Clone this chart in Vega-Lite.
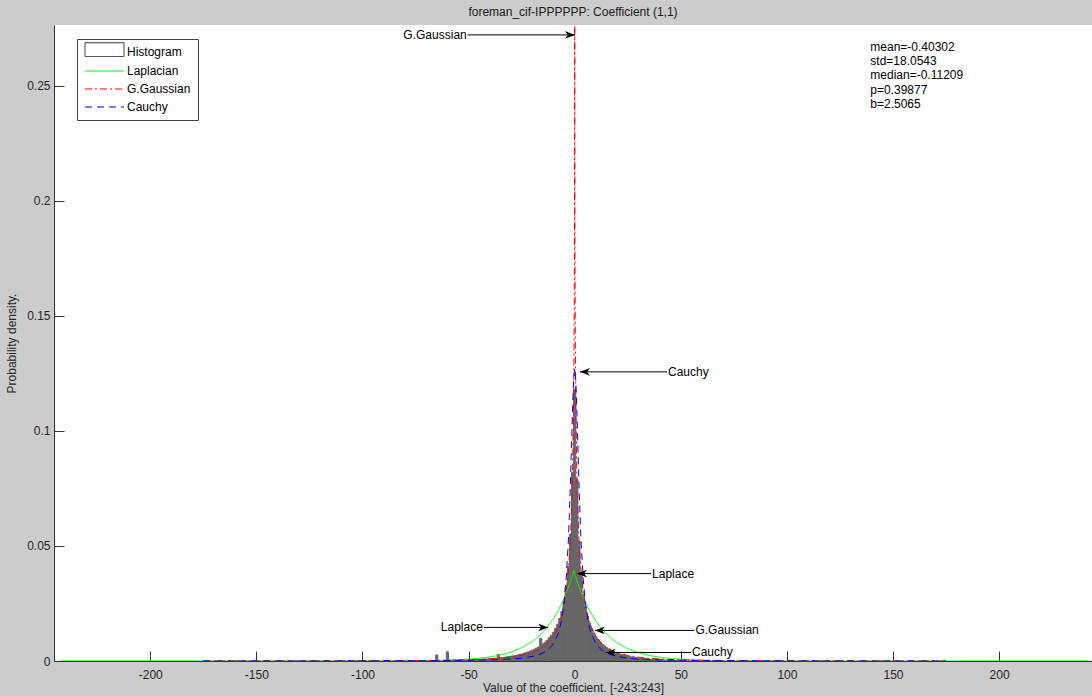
{
  "$schema": "https://vega.github.io/schema/vega-lite/v6.json",
  "width": 1038,
  "height": 636,
  "autosize": {"type": "none"},
  "padding": {"left": 54, "top": 25, "right": 0, "bottom": 35},
  "background": "#cccccc",
  "title": {"text": "foreman_cif-IPPPPPP: Coefficient (1,1)", "fontSize": 12, "font": "Liberation Sans", "fontWeight": "normal", "color": "#1a1a1a", "anchor": "middle", "offset": 6},
  "config": {
    "view": {"fill": "white", "stroke": null},
    "font": "Liberation Sans",
    "axis": {"domainColor": "#333333", "tickColor": "#333333", "labelColor": "#262626", "titleColor": "#262626", "labelFont": "Liberation Sans", "titleFont": "Liberation Sans", "labelFontSize": 12, "titleFontSize": 12, "titleFontWeight": "normal", "grid": false, "tickSize": -10, "labelFlush": false, "labelOverlap": false}
  },
  "datasets": {
    "hist": [
      {"from": -65.5, "to": -64.5, "density": 0.0026},
      {"from": -60.5, "to": -59.5, "density": 0.004},
      {"from": -59.5, "to": -58.5, "density": 0.0003},
      {"from": -58.5, "to": -57.5, "density": 0.0003},
      {"from": -57.5, "to": -56.5, "density": 0.0002},
      {"from": -56.5, "to": -55.5, "density": 0.0003},
      {"from": -55.5, "to": -54.5, "density": 0.0003},
      {"from": -54.5, "to": -53.5, "density": 0.0004},
      {"from": -53.5, "to": -52.5, "density": 0.0003},
      {"from": -52.5, "to": -51.5, "density": 0.0004},
      {"from": -51.5, "to": -50.5, "density": 0.0004},
      {"from": -50.5, "to": -49.5, "density": 0.0005},
      {"from": -49.5, "to": -48.5, "density": 0.0005},
      {"from": -48.5, "to": -47.5, "density": 0.0006},
      {"from": -47.5, "to": -46.5, "density": 0.0005},
      {"from": -46.5, "to": -45.5, "density": 0.0006},
      {"from": -45.5, "to": -44.5, "density": 0.0007},
      {"from": -44.5, "to": -43.5, "density": 0.0007},
      {"from": -43.5, "to": -42.5, "density": 0.0008},
      {"from": -42.5, "to": -41.5, "density": 0.0008},
      {"from": -41.5, "to": -40.5, "density": 0.0009},
      {"from": -40.5, "to": -39.5, "density": 0.001},
      {"from": -39.5, "to": -38.5, "density": 0.0011},
      {"from": -38.5, "to": -37.5, "density": 0.0012},
      {"from": -37.5, "to": -36.5, "density": 0.0012},
      {"from": -36.5, "to": -35.5, "density": 0.0028},
      {"from": -35.5, "to": -34.5, "density": 0.0014},
      {"from": -34.5, "to": -33.5, "density": 0.0015},
      {"from": -33.5, "to": -32.5, "density": 0.0016},
      {"from": -32.5, "to": -31.5, "density": 0.0018},
      {"from": -31.5, "to": -30.5, "density": 0.0019},
      {"from": -30.5, "to": -29.5, "density": 0.0021},
      {"from": -29.5, "to": -28.5, "density": 0.0022},
      {"from": -28.5, "to": -27.5, "density": 0.0024},
      {"from": -27.5, "to": -26.5, "density": 0.0026},
      {"from": -26.5, "to": -25.5, "density": 0.0028},
      {"from": -25.5, "to": -24.5, "density": 0.003},
      {"from": -24.5, "to": -23.5, "density": 0.0033},
      {"from": -23.5, "to": -22.5, "density": 0.0036},
      {"from": -22.5, "to": -21.5, "density": 0.0039},
      {"from": -21.5, "to": -20.5, "density": 0.0043},
      {"from": -20.5, "to": -19.5, "density": 0.0047},
      {"from": -19.5, "to": -18.5, "density": 0.0051},
      {"from": -18.5, "to": -17.5, "density": 0.0056},
      {"from": -17.5, "to": -16.5, "density": 0.0061},
      {"from": -16.5, "to": -15.5, "density": 0.0098},
      {"from": -15.5, "to": -14.5, "density": 0.0073},
      {"from": -14.5, "to": -13.5, "density": 0.0081},
      {"from": -13.5, "to": -12.5, "density": 0.009},
      {"from": -12.5, "to": -11.5, "density": 0.0101},
      {"from": -11.5, "to": -10.5, "density": 0.0112},
      {"from": -10.5, "to": -9.5, "density": 0.0125},
      {"from": -9.5, "to": -8.5, "density": 0.0142},
      {"from": -8.5, "to": -7.5, "density": 0.016},
      {"from": -7.5, "to": -6.5, "density": 0.0185},
      {"from": -6.5, "to": -5.5, "density": 0.0215},
      {"from": -5.5, "to": -4.5, "density": 0.026},
      {"from": -4.5, "to": -3.5, "density": 0.032},
      {"from": -3.5, "to": -2.5, "density": 0.041},
      {"from": -2.5, "to": -1.5, "density": 0.055},
      {"from": -1.5, "to": -0.5, "density": 0.082},
      {"from": -0.5, "to": 0.5, "density": 0.118},
      {"from": 0.5, "to": 1.5, "density": 0.079},
      {"from": 1.5, "to": 2.5, "density": 0.052},
      {"from": 2.5, "to": 3.5, "density": 0.038},
      {"from": 3.5, "to": 4.5, "density": 0.029},
      {"from": 4.5, "to": 5.5, "density": 0.0235},
      {"from": 5.5, "to": 6.5, "density": 0.0195},
      {"from": 6.5, "to": 7.5, "density": 0.0165},
      {"from": 7.5, "to": 8.5, "density": 0.014},
      {"from": 8.5, "to": 9.5, "density": 0.0122},
      {"from": 9.5, "to": 10.5, "density": 0.0105},
      {"from": 10.5, "to": 11.5, "density": 0.0093},
      {"from": 11.5, "to": 12.5, "density": 0.0082},
      {"from": 12.5, "to": 13.5, "density": 0.0073},
      {"from": 13.5, "to": 14.5, "density": 0.0065},
      {"from": 14.5, "to": 15.5, "density": 0.0058},
      {"from": 15.5, "to": 16.5, "density": 0.0052},
      {"from": 16.5, "to": 17.5, "density": 0.0047},
      {"from": 17.5, "to": 18.5, "density": 0.0042},
      {"from": 18.5, "to": 19.5, "density": 0.0038},
      {"from": 19.5, "to": 20.5, "density": 0.0034},
      {"from": 20.5, "to": 21.5, "density": 0.0031},
      {"from": 21.5, "to": 22.5, "density": 0.0028},
      {"from": 22.5, "to": 23.5, "density": 0.0025},
      {"from": 23.5, "to": 24.5, "density": 0.0023},
      {"from": 24.5, "to": 25.5, "density": 0.0021},
      {"from": 25.5, "to": 26.5, "density": 0.0019},
      {"from": 26.5, "to": 27.5, "density": 0.0017},
      {"from": 27.5, "to": 28.5, "density": 0.0016},
      {"from": 28.5, "to": 29.5, "density": 0.0014},
      {"from": 29.5, "to": 30.5, "density": 0.0013},
      {"from": 30.5, "to": 31.5, "density": 0.0012},
      {"from": 31.5, "to": 32.5, "density": 0.0011},
      {"from": 32.5, "to": 33.5, "density": 0.001},
      {"from": 33.5, "to": 34.5, "density": 0.0009},
      {"from": 34.5, "to": 35.5, "density": 0.0008},
      {"from": 35.5, "to": 36.5, "density": 0.0007},
      {"from": 36.5, "to": 37.5, "density": 0.0007},
      {"from": 37.5, "to": 38.5, "density": 0.0006},
      {"from": 38.5, "to": 39.5, "density": 0.0006},
      {"from": 39.5, "to": 40.5, "density": 0.0005},
      {"from": 40.5, "to": 41.5, "density": 0.0005},
      {"from": 41.5, "to": 42.5, "density": 0.0004},
      {"from": 42.5, "to": 43.5, "density": 0.0004},
      {"from": 43.5, "to": 44.5, "density": 0.0003},
      {"from": 44.5, "to": 45.5, "density": 0.0003},
      {"from": 45.5, "to": 46.5, "density": 0.0003},
      {"from": 46.5, "to": 47.5, "density": 0.0002},
      {"from": 47.5, "to": 48.5, "density": 0.0002},
      {"from": 48.5, "to": 49.5, "density": 0.0002},
      {"from": 49.5, "to": 50.5, "density": 0.0002},
      {"from": 51.5, "to": 52.5, "density": 0.0001},
      {"from": 53.5, "to": 54.5, "density": 0.0001},
      {"from": 55.5, "to": 56.5, "density": 0.0001}
    ],
    "curves": [
      {"series": "Laplacian", "x": -243, "y": 0},
      {"series": "Laplacian", "x": -150, "y": 0.0000003},
      {"series": "Laplacian", "x": -120, "y": 0.0000033},
      {"series": "Laplacian", "x": -100, "y": 0.000016},
      {"series": "Laplacian", "x": -90, "y": 0.0000352},
      {"series": "Laplacian", "x": -80, "y": 0.0000769},
      {"series": "Laplacian", "x": -70, "y": 0.000168},
      {"series": "Laplacian", "x": -60, "y": 0.000368},
      {"series": "Laplacian", "x": -50, "y": 0.000805},
      {"series": "Laplacian", "x": -45, "y": 0.00119},
      {"series": "Laplacian", "x": -40, "y": 0.00176},
      {"series": "Laplacian", "x": -35, "y": 0.00261},
      {"series": "Laplacian", "x": -30, "y": 0.00386},
      {"series": "Laplacian", "x": -25, "y": 0.00571},
      {"series": "Laplacian", "x": -20, "y": 0.00844},
      {"series": "Laplacian", "x": -17.5, "y": 0.01027},
      {"series": "Laplacian", "x": -15, "y": 0.01249},
      {"series": "Laplacian", "x": -12.5, "y": 0.01519},
      {"series": "Laplacian", "x": -10, "y": 0.01848},
      {"series": "Laplacian", "x": -8, "y": 0.02162},
      {"series": "Laplacian", "x": -6, "y": 0.02528},
      {"series": "Laplacian", "x": -4, "y": 0.02957},
      {"series": "Laplacian", "x": -2, "y": 0.03458},
      {"series": "Laplacian", "x": -1, "y": 0.0374},
      {"series": "Laplacian", "x": -0.4, "y": 0.0392},
      {"series": "Laplacian", "x": 1, "y": 0.0351},
      {"series": "Laplacian", "x": 2, "y": 0.03248},
      {"series": "Laplacian", "x": 4, "y": 0.02777},
      {"series": "Laplacian", "x": 6, "y": 0.02375},
      {"series": "Laplacian", "x": 8, "y": 0.0203},
      {"series": "Laplacian", "x": 10, "y": 0.01736},
      {"series": "Laplacian", "x": 12.5, "y": 0.01427},
      {"series": "Laplacian", "x": 15, "y": 0.01173},
      {"series": "Laplacian", "x": 17.5, "y": 0.00965},
      {"series": "Laplacian", "x": 20, "y": 0.00793},
      {"series": "Laplacian", "x": 25, "y": 0.00536},
      {"series": "Laplacian", "x": 30, "y": 0.00362},
      {"series": "Laplacian", "x": 35, "y": 0.00245},
      {"series": "Laplacian", "x": 40, "y": 0.00166},
      {"series": "Laplacian", "x": 45, "y": 0.00112},
      {"series": "Laplacian", "x": 50, "y": 0.000756},
      {"series": "Laplacian", "x": 60, "y": 0.000346},
      {"series": "Laplacian", "x": 70, "y": 0.000158},
      {"series": "Laplacian", "x": 80, "y": 0.0000723},
      {"series": "Laplacian", "x": 90, "y": 0.000033},
      {"series": "Laplacian", "x": 100, "y": 0.000015},
      {"series": "Laplacian", "x": 120, "y": 0.000003},
      {"series": "Laplacian", "x": 150, "y": 0.0000003},
      {"series": "Laplacian", "x": 243, "y": 0},
      {"series": "G.Gaussian", "x": -175, "y": 0.0000078},
      {"series": "G.Gaussian", "x": -150, "y": 0.000015},
      {"series": "G.Gaussian", "x": -125, "y": 0.0000303},
      {"series": "G.Gaussian", "x": -100, "y": 0.0000666},
      {"series": "G.Gaussian", "x": -90, "y": 0.0000943},
      {"series": "G.Gaussian", "x": -80, "y": 0.000137},
      {"series": "G.Gaussian", "x": -70, "y": 0.000205},
      {"series": "G.Gaussian", "x": -60, "y": 0.000317},
      {"series": "G.Gaussian", "x": -50, "y": 0.000514},
      {"series": "G.Gaussian", "x": -45, "y": 0.000671},
      {"series": "G.Gaussian", "x": -40, "y": 0.00089},
      {"series": "G.Gaussian", "x": -35, "y": 0.001205},
      {"series": "G.Gaussian", "x": -30, "y": 0.00168},
      {"series": "G.Gaussian", "x": -25, "y": 0.00243},
      {"series": "G.Gaussian", "x": -20, "y": 0.00367},
      {"series": "G.Gaussian", "x": -17.5, "y": 0.00463},
      {"series": "G.Gaussian", "x": -15, "y": 0.00595},
      {"series": "G.Gaussian", "x": -12.5, "y": 0.00786},
      {"series": "G.Gaussian", "x": -10, "y": 0.01076},
      {"series": "G.Gaussian", "x": -8, "y": 0.01436},
      {"series": "G.Gaussian", "x": -7, "y": 0.01686},
      {"series": "G.Gaussian", "x": -6, "y": 0.02008},
      {"series": "G.Gaussian", "x": -5, "y": 0.02436},
      {"series": "G.Gaussian", "x": -4, "y": 0.0303},
      {"series": "G.Gaussian", "x": -3, "y": 0.0391},
      {"series": "G.Gaussian", "x": -2.5, "y": 0.0452},
      {"series": "G.Gaussian", "x": -2, "y": 0.0534},
      {"series": "G.Gaussian", "x": -1.5, "y": 0.0648},
      {"series": "G.Gaussian", "x": -1, "y": 0.082},
      {"series": "G.Gaussian", "x": -0.5, "y": 0.1137},
      {"series": "G.Gaussian", "x": -0.25, "y": 0.1455},
      {"series": "G.Gaussian", "x": -0.1, "y": 0.1846},
      {"series": "G.Gaussian", "x": 0, "y": 0.3163},
      {"series": "G.Gaussian", "x": 0.1, "y": 0.1846},
      {"series": "G.Gaussian", "x": 0.25, "y": 0.1455},
      {"series": "G.Gaussian", "x": 0.5, "y": 0.1137},
      {"series": "G.Gaussian", "x": 1, "y": 0.082},
      {"series": "G.Gaussian", "x": 1.5, "y": 0.0648},
      {"series": "G.Gaussian", "x": 2, "y": 0.0534},
      {"series": "G.Gaussian", "x": 2.5, "y": 0.0452},
      {"series": "G.Gaussian", "x": 3, "y": 0.0391},
      {"series": "G.Gaussian", "x": 4, "y": 0.0303},
      {"series": "G.Gaussian", "x": 5, "y": 0.02436},
      {"series": "G.Gaussian", "x": 6, "y": 0.02008},
      {"series": "G.Gaussian", "x": 7, "y": 0.01686},
      {"series": "G.Gaussian", "x": 8, "y": 0.01436},
      {"series": "G.Gaussian", "x": 10, "y": 0.01076},
      {"series": "G.Gaussian", "x": 12.5, "y": 0.00786},
      {"series": "G.Gaussian", "x": 15, "y": 0.00595},
      {"series": "G.Gaussian", "x": 17.5, "y": 0.00463},
      {"series": "G.Gaussian", "x": 20, "y": 0.00367},
      {"series": "G.Gaussian", "x": 25, "y": 0.00243},
      {"series": "G.Gaussian", "x": 30, "y": 0.00168},
      {"series": "G.Gaussian", "x": 35, "y": 0.001205},
      {"series": "G.Gaussian", "x": 40, "y": 0.00089},
      {"series": "G.Gaussian", "x": 45, "y": 0.000671},
      {"series": "G.Gaussian", "x": 50, "y": 0.000514},
      {"series": "G.Gaussian", "x": 60, "y": 0.000317},
      {"series": "G.Gaussian", "x": 70, "y": 0.000205},
      {"series": "G.Gaussian", "x": 80, "y": 0.000137},
      {"series": "G.Gaussian", "x": 90, "y": 0.0000943},
      {"series": "G.Gaussian", "x": 100, "y": 0.0000666},
      {"series": "G.Gaussian", "x": 125, "y": 0.0000303},
      {"series": "G.Gaussian", "x": 150, "y": 0.000015},
      {"series": "G.Gaussian", "x": 175, "y": 0.0000078},
      {"series": "Cauchy", "x": -175, "y": 0.0000261},
      {"series": "Cauchy", "x": -150, "y": 0.0000355},
      {"series": "Cauchy", "x": -125, "y": 0.0000511},
      {"series": "Cauchy", "x": -100, "y": 0.0000797},
      {"series": "Cauchy", "x": -90, "y": 0.0000985},
      {"series": "Cauchy", "x": -80, "y": 0.000125},
      {"series": "Cauchy", "x": -70, "y": 0.000163},
      {"series": "Cauchy", "x": -60, "y": 0.000221},
      {"series": "Cauchy", "x": -50, "y": 0.000318},
      {"series": "Cauchy", "x": -45, "y": 0.000393},
      {"series": "Cauchy", "x": -40, "y": 0.000497},
      {"series": "Cauchy", "x": -35, "y": 0.000648},
      {"series": "Cauchy", "x": -30, "y": 0.00088},
      {"series": "Cauchy", "x": -25, "y": 0.00126},
      {"series": "Cauchy", "x": -20, "y": 0.00196},
      {"series": "Cauchy", "x": -17.5, "y": 0.00255},
      {"series": "Cauchy", "x": -15, "y": 0.00345},
      {"series": "Cauchy", "x": -12.5, "y": 0.00491},
      {"series": "Cauchy", "x": -10, "y": 0.00751},
      {"series": "Cauchy", "x": -8, "y": 0.01135},
      {"series": "Cauchy", "x": -7, "y": 0.01443},
      {"series": "Cauchy", "x": -6, "y": 0.01887},
      {"series": "Cauchy", "x": -5, "y": 0.0255},
      {"series": "Cauchy", "x": -4, "y": 0.0358},
      {"series": "Cauchy", "x": -3, "y": 0.0522},
      {"series": "Cauchy", "x": -2.5, "y": 0.0637},
      {"series": "Cauchy", "x": -2, "y": 0.0776},
      {"series": "Cauchy", "x": -1.5, "y": 0.0935},
      {"series": "Cauchy", "x": -1, "y": 0.1096},
      {"series": "Cauchy", "x": -0.5, "y": 0.1221},
      {"series": "Cauchy", "x": 0, "y": 0.127},
      {"series": "Cauchy", "x": 0.5, "y": 0.1221},
      {"series": "Cauchy", "x": 1, "y": 0.1096},
      {"series": "Cauchy", "x": 1.5, "y": 0.0935},
      {"series": "Cauchy", "x": 2, "y": 0.0776},
      {"series": "Cauchy", "x": 2.5, "y": 0.0637},
      {"series": "Cauchy", "x": 3, "y": 0.0522},
      {"series": "Cauchy", "x": 4, "y": 0.0358},
      {"series": "Cauchy", "x": 5, "y": 0.0255},
      {"series": "Cauchy", "x": 6, "y": 0.01887},
      {"series": "Cauchy", "x": 7, "y": 0.01443},
      {"series": "Cauchy", "x": 8, "y": 0.01135},
      {"series": "Cauchy", "x": 10, "y": 0.00751},
      {"series": "Cauchy", "x": 12.5, "y": 0.00491},
      {"series": "Cauchy", "x": 15, "y": 0.00345},
      {"series": "Cauchy", "x": 17.5, "y": 0.00255},
      {"series": "Cauchy", "x": 20, "y": 0.00196},
      {"series": "Cauchy", "x": 25, "y": 0.00126},
      {"series": "Cauchy", "x": 30, "y": 0.00088},
      {"series": "Cauchy", "x": 35, "y": 0.000648},
      {"series": "Cauchy", "x": 40, "y": 0.000497},
      {"series": "Cauchy", "x": 45, "y": 0.000393},
      {"series": "Cauchy", "x": 50, "y": 0.000318},
      {"series": "Cauchy", "x": 60, "y": 0.000221},
      {"series": "Cauchy", "x": 70, "y": 0.000163},
      {"series": "Cauchy", "x": 80, "y": 0.000125},
      {"series": "Cauchy", "x": 90, "y": 0.0000985},
      {"series": "Cauchy", "x": 100, "y": 0.0000797},
      {"series": "Cauchy", "x": 125, "y": 0.0000511},
      {"series": "Cauchy", "x": 150, "y": 0.0000355},
      {"series": "Cauchy", "x": 175, "y": 0.0000261}
    ],
    "notes": [
      {"label": "G.Gaussian", "tx": -50.4, "ty": 0.2722, "hx": 0.1, "hy": 0.2722},
      {"label": "Cauchy", "tx": 43.5, "ty": 0.1257, "hx": 2.5, "hy": 0.1257},
      {"label": "Laplace", "tx": 36.0, "ty": 0.038, "hx": 1.1, "hy": 0.038},
      {"label": "Laplace", "tx": -42.8, "ty": 0.0146, "hx": -12.5, "hy": 0.0146},
      {"label": "G.Gaussian", "tx": 56.4, "ty": 0.0133, "hx": 9.5, "hy": 0.0133},
      {"label": "Cauchy", "tx": 54.8, "ty": 0.0037, "hx": 14.6, "hy": 0.0037}
    ],
    "stats": [
      {"text": "mean=-0.40302", "x": 139.3, "y": 0.26687},
      {"text": "std=18.0543", "x": 139.3, "y": 0.26078},
      {"text": "median=-0.11209", "x": 139.3, "y": 0.25457},
      {"text": "p=0.39877", "x": 139.3, "y": 0.24835},
      {"text": "b=2.5065", "x": 139.3, "y": 0.24226}
    ]
  },
  "layer": [
    {
      "data": {"name": "hist"},
      "mark": {"type": "bar", "orient": "vertical", "color": "#666666", "stroke": "#666666", "strokeWidth": 1, "clip": true},
      "encoding": {
        "x": {"field": "from", "type": "quantitative", "scale": {"domain": [-243, 241.4], "nice": false, "zero": false}, "axis": {"values": [-200, -150, -100, -50, 0, 50, 100, 150, 200], "labelExpr": "'' + datum.value", "title": "Value of the coefficient. [-243:243]", "labelPadding": 18, "titlePadding": 2}},
        "x2": {"field": "to"},
        "y": {"field": "density", "type": "quantitative", "scale": {"domain": [0, 0.2765], "nice": false}, "axis": {"values": [0, 0.05, 0.1, 0.15, 0.2, 0.25], "labelExpr": "'' + datum.value", "title": "Probability density.", "labelPadding": 14, "titlePadding": 8}},
        "y2": {"datum": 0}
      }
    },
    {
      "data": {"name": "curves"},
      "mark": {"type": "line", "strokeWidth": 1, "clip": true},
      "encoding": {
        "x": {"field": "x", "type": "quantitative"},
        "y": {"field": "y", "type": "quantitative"},
        "color": {"field": "series", "type": "nominal", "sort": null,
          "scale": {"domain": ["Histogram", "Laplacian", "G.Gaussian", "Cauchy"], "range": ["#333333", "#00ff00", "#ff0000", "#0000ff"]},
          "legend": {"title": null, "orient": "none", "legendX": 23, "legendY": 14, "fillColor": "white", "strokeColor": "#404040", "padding": 7, "symbolType": "M-1,0H6.8", "symbolSize": 100, "symbolStrokeWidth": 1, "labelFontSize": 12, "labelFont": "Liberation Sans", "labelColor": "#000000", "labelOffset": 31, "rowPadding": 6,
            "encoding": {"symbols": {"shape": {"value": {"expr": "datum.value === 'Histogram' ? 'M-1,-1.85H6.8V0.9H-1Z' : 'M-1,0H6.8'"}}, "fill": {"value": "transparent"}, "fillOpacity": {"value": 0}, "opacity": {"value": 1}, "strokeWidth": {"value": 1}}}}},
        "strokeDash": {"field": "series", "type": "nominal", "sort": null,
          "scale": {"domain": ["Histogram", "Laplacian", "G.Gaussian", "Cauchy"], "range": [[1, 0], [1, 0], [7, 3, 2, 3], [7, 5]]},
          "legend": {"title": null, "orient": "none", "legendX": 23, "legendY": 14, "fillColor": "white", "strokeColor": "#404040", "padding": 7, "symbolType": "M-1,0H6.8", "symbolSize": 100, "symbolStrokeWidth": 1, "labelFontSize": 12, "labelFont": "Liberation Sans", "labelColor": "#000000", "labelOffset": 31, "rowPadding": 6,
            "encoding": {"symbols": {"shape": {"value": {"expr": "datum.value === 'Histogram' ? 'M-1,-1.85H6.8V0.9H-1Z' : 'M-1,0H6.8'"}}, "fill": {"value": "transparent"}, "fillOpacity": {"value": 0}, "opacity": {"value": 1}, "strokeWidth": {"value": 1}}}}}
      }
    },
    {
      "data": {"name": "notes"},
      "mark": {"type": "rule", "color": "#000000", "strokeWidth": 1},
      "encoding": {
        "x": {"field": "tx", "type": "quantitative"},
        "x2": {"field": "hx"},
        "y": {"field": "ty", "type": "quantitative"}
      }
    },
    {
      "data": {"name": "notes"},
      "transform": [{"filter": "datum.hx > datum.tx"}],
      "mark": {"type": "point", "shape": "M0,0L-1,-0.38L-0.7,0L-1,0.38Z", "size": 400, "filled": true, "color": "#000000", "opacity": 1},
      "encoding": {
        "x": {"field": "hx", "type": "quantitative"},
        "y": {"field": "hy", "type": "quantitative"}
      }
    },
    {
      "data": {"name": "notes"},
      "transform": [{"filter": "datum.hx < datum.tx"}],
      "mark": {"type": "point", "shape": "M0,0L1,-0.38L0.7,0L1,0.38Z", "size": 400, "filled": true, "color": "#000000", "opacity": 1},
      "encoding": {
        "x": {"field": "hx", "type": "quantitative"},
        "y": {"field": "hy", "type": "quantitative"}
      }
    },
    {
      "data": {"name": "notes"},
      "transform": [{"filter": "datum.hx > datum.tx"}],
      "mark": {"type": "text", "align": "right", "baseline": "middle", "fontSize": 12, "font": "Liberation Sans", "color": "#000000", "dx": -1},
      "encoding": {
        "x": {"field": "tx", "type": "quantitative"},
        "y": {"field": "ty", "type": "quantitative"},
        "text": {"field": "label"}
      }
    },
    {
      "data": {"name": "notes"},
      "transform": [{"filter": "datum.hx < datum.tx"}],
      "mark": {"type": "text", "align": "left", "baseline": "middle", "fontSize": 12, "font": "Liberation Sans", "color": "#000000", "dx": 1},
      "encoding": {
        "x": {"field": "tx", "type": "quantitative"},
        "y": {"field": "ty", "type": "quantitative"},
        "text": {"field": "label"}
      }
    },
    {
      "data": {"name": "stats"},
      "mark": {"type": "text", "align": "left", "baseline": "middle", "fontSize": 12, "font": "Liberation Sans", "color": "#000000"},
      "encoding": {
        "x": {"field": "x", "type": "quantitative"},
        "y": {"field": "y", "type": "quantitative"},
        "text": {"field": "text"}
      }
    }
  ]
}
